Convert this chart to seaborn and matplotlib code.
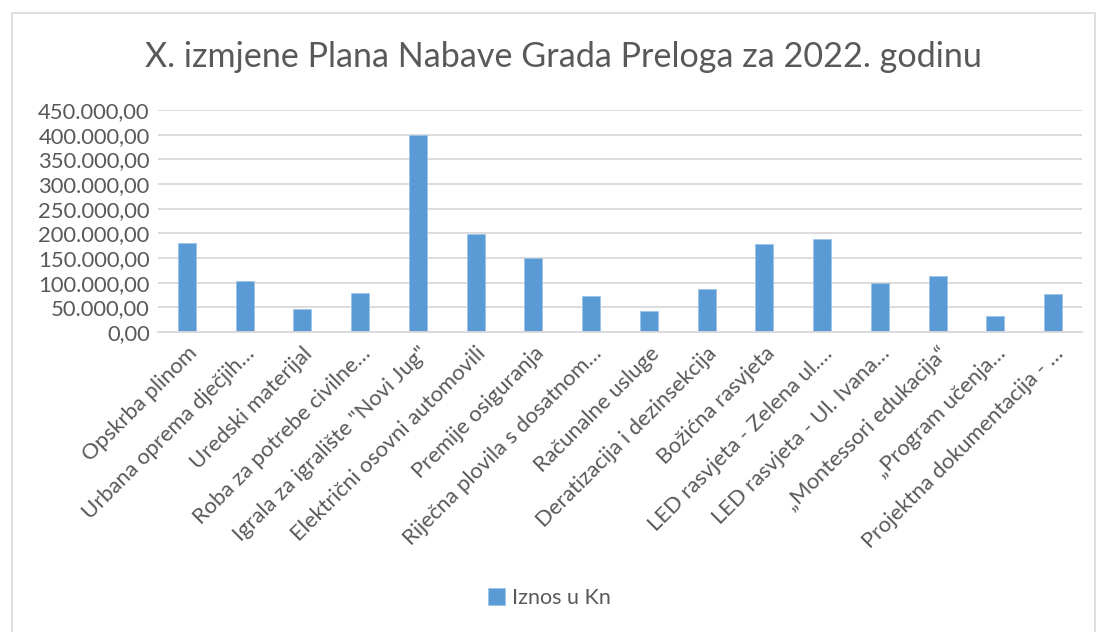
import seaborn as sns
import matplotlib.pyplot as plt
import matplotlib.ticker as mticker
from matplotlib.patches import Rectangle
import pandas as pd

categories = [
    "Opskrba plinom",
    "Urbana oprema dječjih…",
    "Uredski materijal",
    "Roba za potrebe civilne…",
    'Igrala za igralište "Novi Jug"',
    "Električni osovni automovili",
    "Premije osiguranja",
    "Riječna plovila s dosatnom…",
    "Računalne usluge",
    "Deratizacija i dezinsekcija",
    "Božićna rasvjeta",
    "LED rasvjeta - Zelena ul.…",
    "LED rasvjeta - Ul. Ivana…",
    "„Montessori edukacija“",
    "„Program učenja…",
    "Projektna dokumentacija - …",
]
amounts = [180000, 103000, 46000, 79000, 400000, 198000, 149000, 73000,
           42000, 88000, 179000, 189000, 99000, 114000, 32000, 78000]
series_name = "Iznos u Kn"
y_ticks = [0, 50000, 100000, 150000, 200000, 250000, 300000, 350000, 400000, 450000]

df = pd.DataFrame({"kategorija": categories, "iznos": amounts})

sns.set_style("white")
plt.rcParams["font.family"] = ["Lato", "DejaVu Sans"]

bar_color = "#5B9BD5"
text_color = "#595959"
grid_color = "#D9D9D9"

fig = plt.figure(figsize=(10.99, 6.32), dpi=100)
ax = fig.add_axes([0.1438, 0.4747, 0.8407, 0.3513])

sns.barplot(data=df, x="kategorija", y="iznos", color=bar_color, saturation=1,
            width=0.31, edgecolor="#9DC3E6", linewidth=0.6, ax=ax, label=series_name)

ax.set_ylim(0, 450000)
ax.set_xlim(-0.5, len(categories) - 0.5)
ax.set_yticks(y_ticks)
ax.yaxis.set_major_formatter(
    mticker.FuncFormatter(lambda v, p: f"{v:,.2f}".replace(",", "X").replace(".", ",").replace("X", "."))
)
ax.grid(axis="y", color=grid_color, linewidth=1.3)
ax.set_axisbelow(True)
for s in ["top", "right", "left"]:
    ax.spines[s].set_visible(False)
ax.spines["bottom"].set_color(grid_color)
ax.spines["bottom"].set_linewidth(1.3)
ax.tick_params(axis="both", length=0, labelsize=15.8, colors=text_color, pad=6)
ax.set_xlabel("")
ax.set_ylabel("")

ax.set_xticks(range(len(categories)))
ax.set_xticklabels(categories, rotation=45, ha="right", va="top",
                   rotation_mode="anchor")
ax.tick_params(axis="x", pad=8)

fig.suptitle("X. izmjene Plana Nabave Grada Preloga za 2022. godinu",
             x=0.513, y=0.935, fontsize=24.6, color=text_color)

leg = ax.legend(loc="center", bbox_to_anchor=(0.5, 0.054),
                bbox_transform=fig.transFigure, frameon=False,
                fontsize=15.5, handlelength=0.8, handleheight=0.8,
                handletextpad=0.3)
for t in leg.get_texts():
    t.set_color(text_color)

fig.patches.append(Rectangle((0.011, -0.05), 0.985, 1.03, transform=fig.transFigure,
                             fill=False, edgecolor=grid_color, linewidth=1.2))

plt.savefig("out.png", dpi=100)
